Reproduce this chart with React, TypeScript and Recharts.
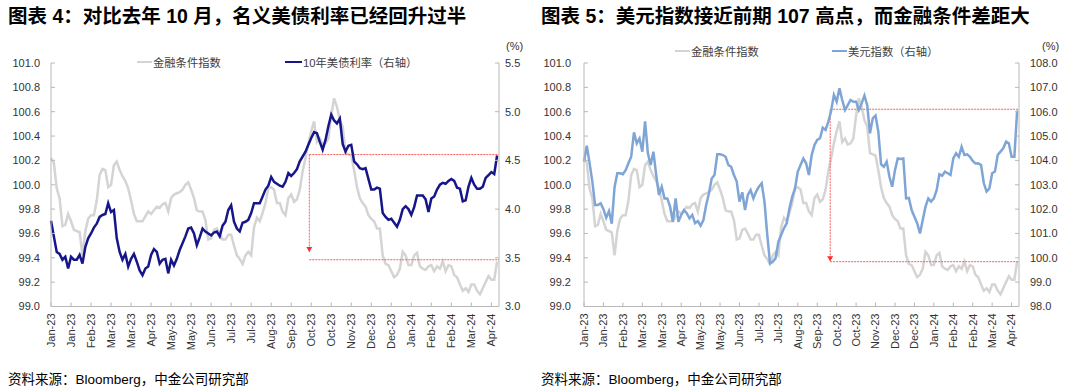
import React from 'react'
import { LineChart, Line, XAxis, YAxis, ReferenceLine, ReferenceDot } from 'recharts'

// 横轴刻度：每 21 天一个
const xTickLabels = [
  'Jan-23', 'Jan-23', 'Feb-23', 'Mar-23', 'Mar-23', 'Apr-23', 'May-23', 'May-23',
  'Jun-23', 'Jul-23', 'Jul-23', 'Aug-23', 'Sep-23', 'Oct-23', 'Oct-23', 'Nov-23',
  'Dec-23', 'Dec-23', 'Jan-24', 'Feb-24', 'Feb-24', 'Mar-24', 'Apr-24',
]
const TICK_STEP = 21
const DAY_STEP = 3 // 数据点间隔（天），起点 2023-01-02

// 金融条件指数（左轴）
const fci = [
  100.22, 100.18, 99.97, 99.89, 99.66, 99.67, 99.76, 99.70, 99.63, 99.62,
  99.61, 99.42, 99.62, 99.72, 99.75, 99.75, 99.87, 100.08, 100.13, 100.12,
  99.98, 100.00, 100.16, 100.19, 100.12, 100.07, 100.03, 99.97, 99.87, 99.76,
  99.70, 99.70, 99.70, 99.74, 99.78, 99.76, 99.79, 99.82, 99.81, 99.84,
  99.85, 99.78, 99.89, 99.92, 99.93, 99.94, 99.96, 100.00, 100.02, 99.96,
  99.89, 99.79, 99.78, 99.78, 99.71, 99.55, 99.56, 99.63, 99.64, 99.60,
  99.55, 99.55, 99.59, 99.59, 99.50, 99.42, 99.39, 99.35, 99.42, 99.45,
  99.42, 99.65, 99.73, 99.70, 99.77, 99.85, 99.97, 99.98, 99.96, 99.85,
  99.85, 99.78, 99.75, 99.89, 99.92, 99.86, 99.88, 99.96, 100.11, 100.22,
  100.34, 100.44, 100.52, 100.35, 100.38, 100.33, 100.34, 100.38, 100.57, 100.71,
  100.64, 100.53, 100.48, 100.26, 100.25, 100.24, 100.12, 99.98, 99.89, 99.85,
  99.82, 99.75, 99.72, 99.70, 99.64, 99.64, 99.42, 99.35, 99.34, 99.29,
  99.24, 99.26, 99.31, 99.45, 99.42, 99.34, 99.34, 99.42, 99.44, 99.33,
  99.31, 99.30, 99.33, 99.34, 99.29, 99.33, 99.31, 99.37, 99.29, 99.34,
  99.33, 99.26, 99.24, 99.18, 99.13, 99.15, 99.12, 99.18, 99.18, 99.13,
  99.10, 99.15, 99.20, 99.25, 99.22, 99.22, 99.37,
]

// 10年美债利率（%）
const ust10y = [
  3.88, 3.72, 3.56, 3.54, 3.48, 3.51, 3.39, 3.51, 3.48, 3.48,
  3.53, 3.44, 3.61, 3.70, 3.75, 3.81, 3.85, 3.92, 3.94, 3.95,
  4.06, 3.97, 3.99, 3.70, 3.56, 3.48, 3.54, 3.41, 3.49, 3.54,
  3.46, 3.37, 3.32, 3.39, 3.41, 3.53, 3.59, 3.56, 3.44, 3.48,
  3.49, 3.34, 3.48, 3.42, 3.49, 3.58, 3.65, 3.72, 3.80, 3.81,
  3.75, 3.63, 3.71, 3.80, 3.77, 3.75, 3.73, 3.76, 3.77, 3.72,
  3.83, 3.87, 3.99, 4.04, 3.87, 3.80, 3.77, 3.86, 3.87, 3.89,
  3.96, 4.06, 4.06, 4.06, 4.13, 4.20, 4.24, 4.33, 4.28, 4.26,
  4.24, 4.23, 4.28, 4.37, 4.34, 4.37, 4.41, 4.49, 4.54, 4.59,
  4.66, 4.73, 4.79, 4.78, 4.69, 4.61, 4.71, 4.85, 4.97, 4.91,
  4.88, 4.93, 4.67, 4.59, 4.65, 4.66, 4.49, 4.46, 4.42, 4.41,
  4.42, 4.31, 4.20, 4.20, 4.22, 4.21, 3.96, 3.92, 3.89, 3.90,
  3.86, 3.82, 3.89, 4.00, 4.03, 4.00, 3.94, 4.02, 4.14, 4.14,
  4.14, 4.10, 3.97, 4.11, 4.13, 4.20, 4.25, 4.27, 4.26, 4.29,
  4.31, 4.29, 4.22, 4.21, 4.08, 4.09, 4.23, 4.32, 4.25, 4.21,
  4.21, 4.23, 4.32, 4.35, 4.38, 4.36, 4.55,
]

// 美元指数
const dxy = [
  103.95, 104.60, 103.90, 103.13, 102.17, 102.17, 102.24, 102.00, 101.65, 101.92,
  101.40, 102.90, 103.47, 103.47, 103.43, 103.60, 103.88, 104.15, 105.15, 104.70,
  104.90, 104.36, 105.60, 104.30, 103.81, 104.36, 103.40, 102.58, 102.92, 102.44,
  102.44, 102.10, 101.48, 102.44, 101.48, 101.76, 101.96, 101.83, 101.62, 101.76,
  101.42, 101.51, 101.32, 101.55, 102.17, 102.65, 103.26, 103.40, 104.25, 104.25,
  104.22, 104.15, 103.81, 103.74, 103.40, 103.13, 102.31, 102.69, 101.96, 102.58,
  102.78, 102.44, 102.72, 102.92, 103.06, 102.31, 100.94, 99.77, 99.84, 99.98,
  100.66, 100.94, 101.21, 101.42, 102.03, 102.51, 102.85, 103.54, 103.81, 104.08,
  103.88, 103.40, 104.22, 104.63, 104.84, 104.91, 105.34, 105.25, 105.59, 106.03,
  106.69, 106.41, 106.96, 106.48, 106.07, 106.27, 106.48, 106.41, 106.41, 106.07,
  106.34, 106.66, 106.27, 105.11, 105.73, 105.84, 105.18, 103.84, 103.74, 103.95,
  103.33, 102.92, 103.60, 104.08, 104.06, 104.08, 102.44, 102.46, 101.96, 101.69,
  101.42, 101.00, 101.55, 102.10, 102.44, 102.31, 102.44, 102.78, 103.43, 103.37,
  103.54, 103.47, 103.40, 104.08, 104.29, 104.15, 104.56, 104.22, 104.25, 104.15,
  103.98, 103.87, 103.88, 103.81, 103.06, 102.72, 102.85, 103.47, 103.54, 104.22,
  104.36, 104.50, 104.77, 104.70, 104.15, 104.15, 106.05,
]

const fciTicks = [99.0, 99.2, 99.4, 99.6, 99.8, 100.0, 100.2, 100.4, 100.6, 100.8, 101.0]
const ustTicks = [3.0, 3.5, 4.0, 4.5, 5.0, 5.5]
const dxyTicks = [98, 99, 100, 101, 102, 103, 104, 105, 106, 107, 108]

// 红色标注：起点日期、上沿、下沿、箭头位置
const ustMark = { day: 271, high: 4.56, low: 3.48, arrow: 3.56 }
const dxyMark = { day: 266, high: 106.1, low: 99.84, arrow: 99.86 }

const X_MAX = 470
const xTicks = xTickLabels.map((_, i) => i * TICK_STEP)

const data = fci.map((v, i) => ({
  d: i * DAY_STEP,
  fci: v,
  ust: ust10y[i],
  dxy: dxy[i],
}))

const AXIS = '#b8b8b8'
const RED = '#ff5a5a'
const GRAY = '#d4d4d4'
const NAVY = '#16168a'
const BLUE = '#7fa5d6'
const LATIN = '"Liberation Sans", Arial, "Noto Sans CJK SC", sans-serif'
const CJK = '"Liberation Sans", "Noto Sans CJK SC", sans-serif'
const TICK_FONT = { fontFamily: LATIN, fontSize: 11, fill: '#333' }

// 刻度线朝内，标签在外
function yTick(side: 'left' | 'right', gap: number, digits: number) {
  // eslint-disable-next-line @typescript-eslint/no-explicit-any
  return (props: any) => {
    const { x, y, payload } = props
    const ax = side === 'left' ? x + gap : x - gap
    const inner = side === 'left' ? ax + 4 : ax - 4
    return (
      <g>
        <line x1={ax} x2={inner} y1={y} y2={y} stroke={AXIS} />
        <text x={x} y={y} dy="0.35em" textAnchor={side === 'left' ? 'end' : 'start'} {...TICK_FONT}>
          {Number(payload.value).toFixed(digits)}
        </text>
      </g>
    )
  }
}

function xTick(gap: number) {
  // eslint-disable-next-line @typescript-eslint/no-explicit-any
  return (props: any) => {
    const { x, y, payload } = props
    const ay = y - gap
    return (
      <g>
        <line x1={x} x2={x} y1={ay} y2={ay - 4} stroke={AXIS} />
        <text
          x={x}
          y={y}
          dy="0.35em"
          textAnchor="end"
          transform={`rotate(-90 ${x} ${y})`}
          {...TICK_FONT}
        >
          {xTickLabels[Math.round(payload.value / TICK_STEP)]}
        </text>
      </g>
    )
  }
}

// eslint-disable-next-line @typescript-eslint/no-explicit-any
const Arrow = (props: any) => {
  const { cx, cy } = props
  return <path d={`M${cx - 3},${cy - 5}L${cx + 3},${cy - 5}L${cx},${cy}Z`} fill="#ff2a2a" />
}

function LegendItem({ left, top, color, width, label }: { left: number; top: number; color: string; width: number; label: string }) {
  return (
    <div style={{ position: 'absolute', left, top: top - 8, height: 16, display: 'flex', alignItems: 'center' }}>
      <span style={{ display: 'inline-block', width, height: 2.5, background: color }} />
      <span style={{ fontFamily: CJK, fontSize: 11.3, color: '#404040', marginLeft: 1, whiteSpace: 'nowrap' }}>{label}</span>
    </div>
  )
}

const titleStyle: React.CSSProperties = {
  position: 'absolute',
  top: 5,
  fontFamily: CJK,
  fontSize: 19.5,
  fontWeight: 'bold',
  lineHeight: '22px',
  color: '#000',
  whiteSpace: 'nowrap',
}

const footStyle: React.CSSProperties = {
  position: 'absolute',
  top: 371,
  fontFamily: CJK,
  fontSize: 13.5,
  lineHeight: '18px',
  color: '#000',
  whiteSpace: 'nowrap',
}

const unitStyle: React.CSSProperties = {
  position: 'absolute',
  top: 40,
  fontFamily: LATIN,
  fontSize: 11,
  color: '#333',
}

function UstChart() {
  return (
    <LineChart width={540} height={360} data={data} margin={{ top: 63, right: 6, bottom: 3.5, left: 10 }}>
      <XAxis
        dataKey="d"
        type="number"
        domain={[0, X_MAX]}
        ticks={xTicks}
        interval={0}
        tickSize={0}
        tickMargin={7}
        height={50}
        axisLine={{ stroke: AXIS }}
        tick={xTick(7)}
      />
      <YAxis
        yAxisId="left"
        domain={[99, 101]}
        ticks={fciTicks}
        interval={0}
        width={41}
        tickSize={0}
        tickMargin={11}
        axisLine={{ stroke: AXIS }}
        tick={yTick('left', 11, 1)}
      />
      <YAxis
        yAxisId="right"
        orientation="right"
        domain={[3, 5.5]}
        ticks={ustTicks}
        interval={0}
        width={35}
        tickSize={0}
        tickMargin={6}
        axisLine={{ stroke: AXIS }}
        tick={yTick('right', 6, 1)}
      />
      <Line yAxisId="left" type="linear" dataKey="fci" stroke={GRAY} strokeWidth={2.5} dot={false} isAnimationActive={false} />
      <ReferenceLine yAxisId="right" segment={[{ x: ustMark.day, y: ustMark.high }, { x: X_MAX, y: ustMark.high }]} stroke={RED} strokeDasharray="2 1" />
      <ReferenceLine yAxisId="right" segment={[{ x: ustMark.day, y: ustMark.low }, { x: X_MAX, y: ustMark.low }]} stroke={RED} strokeDasharray="2 1" />
      <ReferenceLine yAxisId="right" segment={[{ x: ustMark.day, y: ustMark.high }, { x: ustMark.day, y: ustMark.arrow }]} stroke={RED} strokeDasharray="2 1" />
      <ReferenceDot yAxisId="right" x={ustMark.day} y={ustMark.arrow} r={3} shape={<Arrow />} />
      <Line yAxisId="right" type="linear" dataKey="ust" stroke={NAVY} strokeWidth={2.5} dot={false} isAnimationActive={false} />
    </LineChart>
  )
}

function DxyChart() {
  return (
    <LineChart width={540} height={360} data={data} margin={{ top: 63, right: 20, bottom: 3.5, left: 8 }}>
      <XAxis
        dataKey="d"
        type="number"
        domain={[0, X_MAX]}
        ticks={xTicks}
        interval={0}
        tickSize={0}
        tickMargin={7}
        height={50}
        axisLine={{ stroke: AXIS }}
        tick={xTick(7)}
      />
      <YAxis
        yAxisId="left"
        domain={[99, 101]}
        ticks={fciTicks}
        interval={0}
        width={36}
        tickSize={0}
        tickMargin={13}
        axisLine={{ stroke: AXIS }}
        tick={yTick('left', 13, 1)}
      />
      <YAxis
        yAxisId="right"
        orientation="right"
        domain={[98, 108]}
        ticks={dxyTicks}
        interval={0}
        width={41}
        tickSize={0}
        tickMargin={11}
        axisLine={{ stroke: AXIS }}
        tick={yTick('right', 11, 1)}
      />
      <Line yAxisId="left" type="linear" dataKey="fci" stroke={GRAY} strokeWidth={2.5} dot={false} isAnimationActive={false} />
      <ReferenceLine yAxisId="right" segment={[{ x: dxyMark.day, y: dxyMark.high }, { x: X_MAX, y: dxyMark.high }]} stroke={RED} strokeDasharray="2 1" />
      <ReferenceLine yAxisId="right" segment={[{ x: dxyMark.day, y: dxyMark.low }, { x: X_MAX, y: dxyMark.low }]} stroke={RED} strokeDasharray="2 1" />
      <ReferenceLine yAxisId="right" segment={[{ x: dxyMark.day, y: dxyMark.high }, { x: dxyMark.day, y: dxyMark.arrow }]} stroke={RED} strokeDasharray="2 1" />
      <ReferenceDot yAxisId="right" x={dxyMark.day} y={dxyMark.arrow} r={3} shape={<Arrow />} />
      <Line yAxisId="right" type="linear" dataKey="dxy" stroke={BLUE} strokeWidth={2.5} dot={false} isAnimationActive={false} />
    </LineChart>
  )
}

export default function App() {
  return (
    <div style={{ position: 'absolute', left: 0, top: 0, width: 1080, height: 391, background: '#fff', overflow: 'hidden' }}>
      <div style={{ ...titleStyle, left: 8 }}>图表 4：对比去年 10 月，名义美债利率已经回升过半</div>
      <div style={{ ...titleStyle, left: 541 }}>图表 5：美元指数接近前期 107 高点，而金融条件差距大</div>

      <div style={{ position: 'absolute', left: 0, top: 0 }}>
        <UstChart />
      </div>
      <div style={{ position: 'absolute', left: 540, top: 0 }}>
        <DxyChart />
      </div>

      <LegendItem left={137} top={62} color={GRAY} width={15} label="金融条件指数" />
      <LegendItem left={285} top={62} color={NAVY} width={17} label="10年美债利率（右轴）" />
      <LegendItem left={675} top={51} color={GRAY} width={15} label="金融条件指数" />
      <LegendItem left={832} top={51} color={BLUE} width={15} label="美元指数（右轴）" />

      <div style={{ ...unitStyle, left: 506 }}>(%)</div>
      <div style={{ ...unitStyle, left: 1042 }}>(%)</div>

      <div style={{ ...footStyle, left: 8 }}>资料来源：Bloomberg，中金公司研究部</div>
      <div style={{ ...footStyle, left: 541 }}>资料来源：Bloomberg，中金公司研究部</div>
    </div>
  )
}
